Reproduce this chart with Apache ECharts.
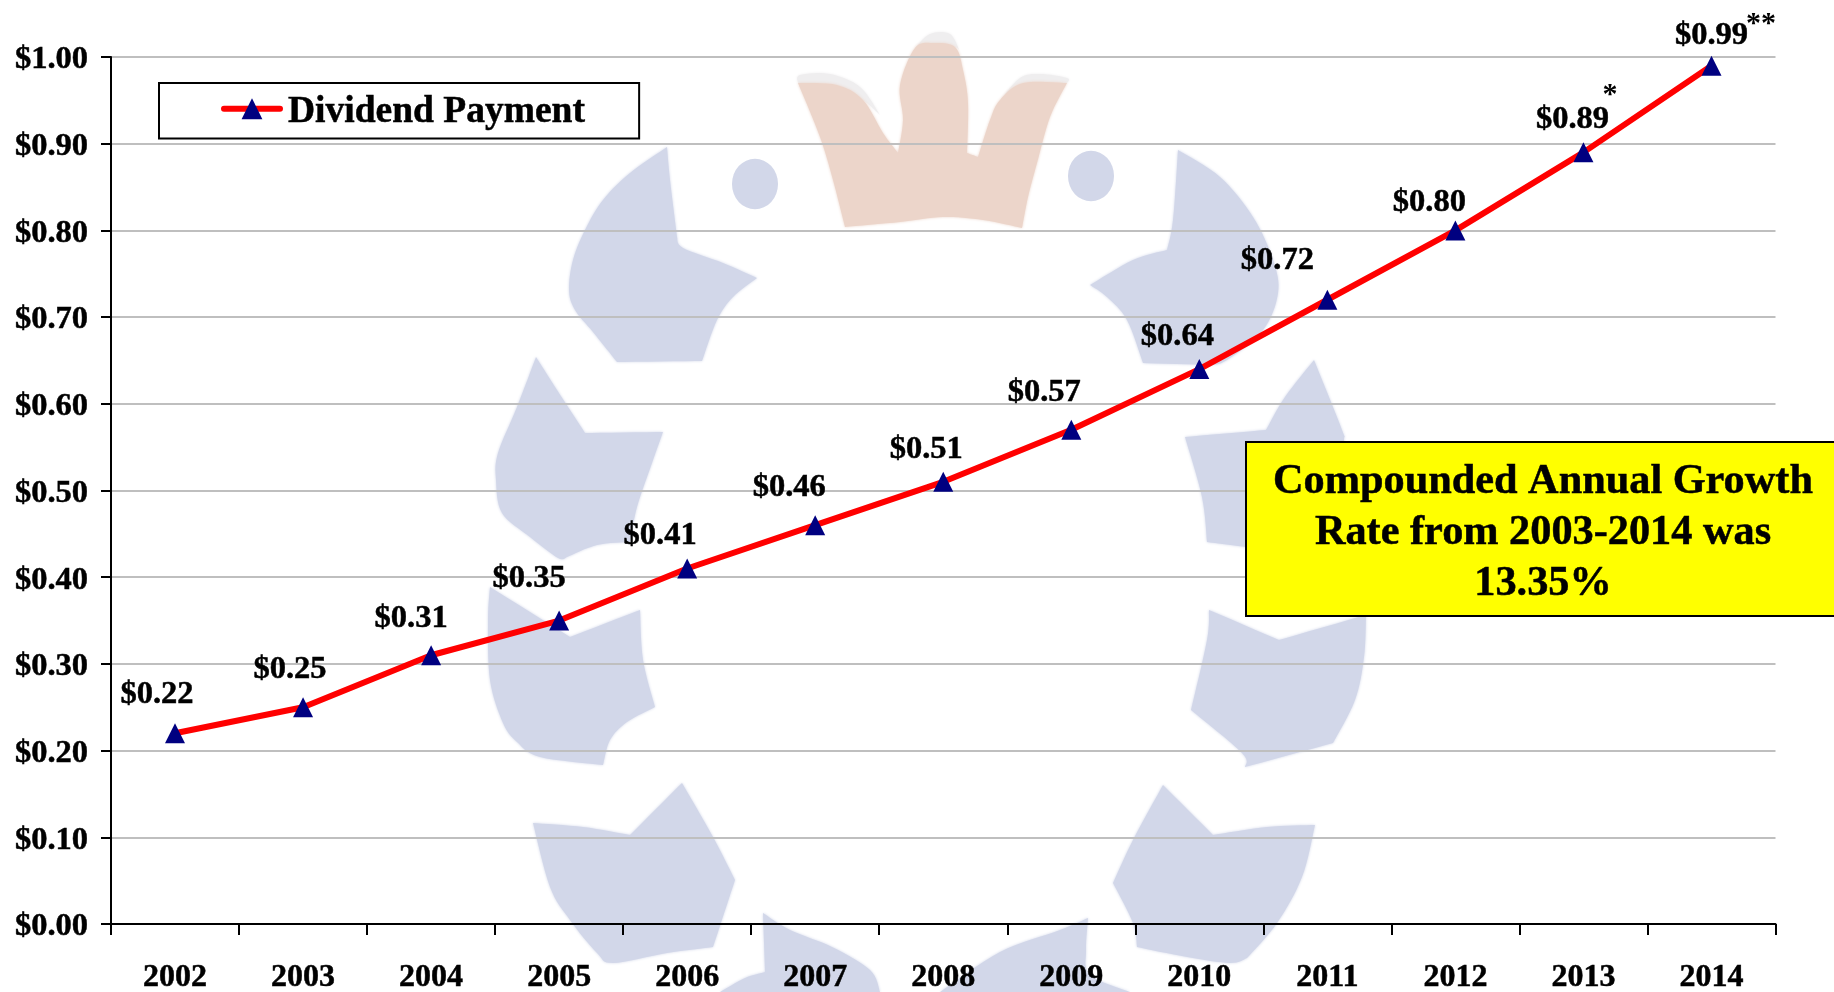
<!DOCTYPE html>
<html><head><meta charset="utf-8">
<style>html,body{margin:0;padding:0;background:#fff}#c{width:1834px;height:992px}</style>
<script src="https://cdn.jsdelivr.net/npm/echarts@6/dist/echarts.min.js"></script>
</head><body><div id="c"></div>
<script>
const years = ['2002','2003','2004','2005','2006','2007','2008','2009','2010','2011','2012','2013','2014'];
const dividends = [0.22,0.25,0.31,0.35,0.41,0.46,0.51,0.57,0.64,0.72,0.80,0.89,0.99];
const seriesName = 'Dividend Payment';
const noteLines = ['Compounded Annual Growth','Rate from 2003-2014 was','13.35%'];
const labelOffsets = [[-18,-39],[-13,-38],[-20,-37],[-30,-42],[-27,-33],[-26,-38],[-17,-32],[-27,-37],[-22,-33],[-50,-39],[-26,-28],[-11,-33],[0,-30]];

const serif = '"Liberation Serif","Times New Roman",serif';
const leafColor = '#d2d7e9', crownColor = '#ecd5ca', capColor = '#efeeef';
// watermark outlines; a third element marks a sharp corner, the rest are joined by curves
const leaves = [
 [[667,147,1],[630,173],[603,200],[585,230],[573,260],[569,290],[575,310],[593,332],[617,362,1],[702,361,1],[717,320],[733,297],[757,278,1],[723,263],[683,248],[677,237,1],[670,180]],
 [[536,357,1],[557,390],[585,433,1],[663,432,1],[652,463],[637,507],[630,542,1],[597,545],[567,557,1],[558,558],[530,537],[502,513],[496,480],[498,453],[517,407]],
 [[490,587,1],[570,637,1],[640,610,1],[643,660],[655,707,1],[627,722],[610,740],[603,765,1],[540,757],[517,742],[503,723],[490,680],[488,620]],
 [[533,823,1],[583,827],[630,835,1],[682,783,1],[713,837],[735,880,1],[713,947,1],[667,953],[613,963],[597,953],[570,920],[550,887]],
 [[763,913,1],[790,930],[832,947],[870,970],[880,992,1],[720,992,1],[745,978],[765,972,1]],
 [[1088,918,1],[1060,930],[1000,952],[940,992,1],[1130,992,1],[1090,975],[1086,950]],
 [[1163,785,1],[1213,835,1],[1267,827],[1315,825,1],[1302,877],[1277,923],[1247,958,1],[1230,963],[1187,957],[1137,947,1],[1133,923],[1113,883,1],[1133,840]],
 [[1209,610,1],[1279,640,1],[1366,615,1],[1364,657],[1355,700],[1333,743,1],[1245,767,1],[1242,753],[1191,710,1],[1207,640]],
 [[1314,360,1],[1342,430],[1344,442],[1344,500,1],[1246,547,1],[1207,542,1],[1202,497],[1185,437,1],[1266,430,1],[1285,397]],
 [[1178,150,1],[1220,177],[1253,217],[1273,260],[1278,293],[1263,330],[1227,360],[1210,365,1],[1143,363,1],[1127,320],[1107,297],[1090,285,1],[1133,260],[1167,250,1],[1173,220]]
];
const crown = [[798,83,1],[837,85],[863,100],[883,133],[898,153,1],[903,120],[900,85],[915,48],[933,43],[955,47],[963,70],[968,103],[967,153,1],[978,157,1],[990,120],[1000,100],[1023,83],[1067,83,1],[1050,117],[1037,163],[1028,197],[1022,228,1],[983,220],[943,217],[900,222],[845,227,1],[833,180],[820,137]];
const crownCaps = [
 [[798,83,1],[800,75],[830,74],[860,87],[880,115,1],[863,100],[837,85]],
 [[915,48,1],[930,34],[950,34],[960,52,1],[955,47],[933,43]],
 [[1000,100,1],[1020,78],[1040,74],[1067,78],[1067,83,1],[1023,83]]
];
const dots = [[755,184],[1091,176]];

// sample a closed outline: Catmull-Rom between points, stopping the tangent at sharp corners
function outline(pts){
  const n = pts.length, out = [];
  for (let i = 0; i < n; i++){
    const p1 = pts[i], p2 = pts[(i+1)%n];
    const p0 = p1[2] ? p1 : pts[(i-1+n)%n];
    const p3 = p2[2] ? p2 : pts[(i+2)%n];
    for (let k = 0; k < 8; k++){
      const t = k/8, t2 = t*t, t3 = t2*t;
      const f = a => 0.5*(2*p1[a]+(p2[a]-p0[a])*t+(2*p0[a]-5*p1[a]+4*p2[a]-p3[a])*t2+(3*p1[a]-p0[a]-3*p2[a]+p3[a])*t3);
      out.push([f(0),f(1)]);
    }
  }
  return out;
}

const graphics = [];
crownCaps.forEach(p => graphics.push({type:'polygon',silent:true,z:-11,shape:{points:outline(p)},style:{fill:capColor,shadowBlur:3,shadowColor:capColor}}));
leaves.forEach(p => graphics.push({type:'polygon',silent:true,z:-10,shape:{points:outline(p)},style:{fill:leafColor,shadowBlur:3,shadowColor:leafColor}}));
graphics.push({type:'polygon',silent:true,z:-10,shape:{points:outline(crown)},style:{fill:crownColor,shadowBlur:3,shadowColor:crownColor}});
dots.forEach(d => graphics.push({type:'circle',silent:true,z:-10,x:d[0],y:d[1],scaleY:1.1,shape:{cx:0,cy:0,r:23},style:{fill:leafColor}}));
graphics.push({type:'rect',z:100,shape:{x:1246,y:442,width:620,height:174},style:{fill:'#ffff00',stroke:'#000',lineWidth:2}});
graphics.push({type:'text',z:101,x:1543,y:533,style:{text:noteLines.join('\n'),font:'bold 42.3px '+serif,lineHeight:51,fill:'#000',textAlign:'center',textVerticalAlign:'middle',stroke:'#000',lineWidth:0.5}});
graphics.push({type:'text',z:101,x:1610,y:95,style:{text:'*',font:'bold 30px '+serif,fill:'#000',textAlign:'center',textVerticalAlign:'middle'}});
graphics.push({type:'text',z:101,x:1761,y:24,style:{text:'**',font:'bold 30px '+serif,fill:'#000',textAlign:'center',textVerticalAlign:'middle'}});

const thick = {textBorderColor:'#000',textBorderWidth:0.5};
const chart = echarts.init(document.getElementById('c'),null,{renderer:'canvas'});
chart.setOption({
  animation:false,
  backgroundColor:'#fff',
  grid:{left:111,right:58.5,top:57,bottom:68,containLabel:false,outerBoundsMode:'none'},
  legend:{left:159,top:83,orient:'horizontal',data:[seriesName],backgroundColor:'#fff',borderColor:'#000',borderWidth:2,
    padding:[10,54,7,62],itemWidth:56,itemHeight:26,itemGap:0,
    lineStyle:{color:'#ff0000',width:6,cap:'round'},
    formatter:n=>'{a|'+n+'}',
    textStyle:{rich:{a:{fontFamily:serif,fontWeight:'bold',fontSize:37.5,color:'#000',padding:[7,0,0,3],...thick}}}},
  xAxis:{type:'category',data:years,boundaryGap:true,
    axisLine:{lineStyle:{color:'#000',width:2}},
    axisTick:{show:true,alignWithLabel:false,length:11,lineStyle:{color:'#000',width:2}},
    axisLabel:{interval:0,margin:38,fontFamily:serif,fontWeight:'bold',fontSize:32,color:'#000',...thick},
    splitLine:{show:false}},
  yAxis:{type:'value',min:0,max:1,interval:0.1,
    axisLine:{show:true,lineStyle:{color:'#000',width:2}},
    axisTick:{show:true,length:10,lineStyle:{color:'#000',width:2}},
    axisLabel:{margin:23,formatter:v=>'{a|$'+v.toFixed(2)+'}',
      rich:{a:{fontFamily:serif,fontWeight:'bold',fontSize:32.5,color:'#000',padding:[6,0,0,0],...thick}}},
    splitLine:{show:true,lineStyle:{color:'#bfbfbf',width:2}}},
  graphic:{elements:graphics},
  series:[{name:seriesName,type:'line',smooth:false,symbol:'triangle',symbolSize:[20,20],
    lineStyle:{color:'#ff0000',width:6},itemStyle:{color:'#000080'},
    data:dividends.map((v,i)=>({value:v,label:{show:true,position:'inside',offset:labelOffsets[i],
      formatter:'$'+v.toFixed(2),fontFamily:serif,fontWeight:'bold',fontSize:32.5,color:'#000',...thick}}))}]
});
</script></body></html>
